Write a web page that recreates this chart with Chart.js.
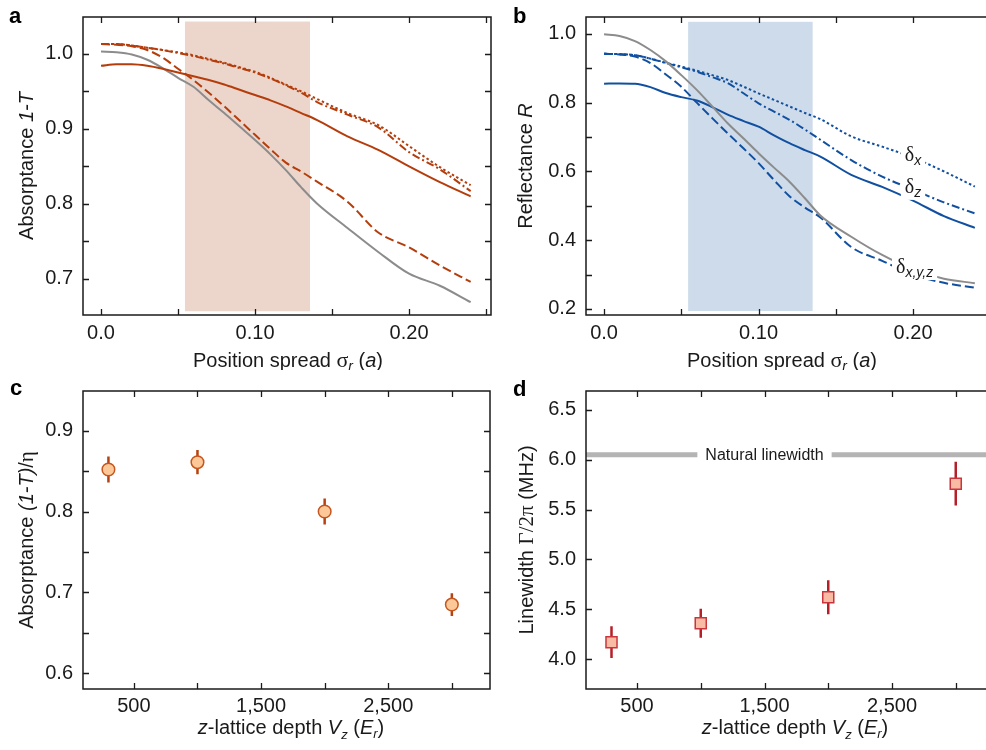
<!DOCTYPE html>
<html>
<head>
<meta charset="utf-8">
<script src="https://cdn.jsdelivr.net/npm/chart.js@4.4.1/dist/chart.umd.min.js"></script>
<style>
  html, body { margin: 0; padding: 0; background: #fff; overflow: hidden; }
  #fig { position: relative; width: 986px; height: 750px; overflow: hidden; }
  canvas { position: absolute; }
</style>
</head>
<body>
<div id="fig">
  <canvas id="panelA" width="493" height="370" style="left:0;top:0"></canvas>
  <canvas id="panelB" width="507" height="370" style="left:493px;top:0"></canvas>
  <canvas id="panelC" width="493" height="380" style="left:0;top:370px"></canvas>
  <canvas id="panelD" width="507" height="380" style="left:493px;top:370px"></canvas>
</div>
<script>
// ---- data ----
const spread = [0, 0.01, 0.02, 0.03, 0.04, 0.05, 0.06, 0.07, 0.08, 0.09, 0.10, 0.11, 0.12, 0.13, 0.14, 0.16, 0.18, 0.20, 0.22, 0.24];

// panel a: absorptance 1-T
const grayA    = [1.003, 1.002, 0.999, 0.992, 0.981, 0.968, 0.956, 0.938, 0.921, 0.903, 0.885, 0.866, 0.845, 0.822, 0.801, 0.768, 0.736, 0.707, 0.691, 0.669];
const solidA   = [0.984, 0.986, 0.986, 0.984, 0.980, 0.975, 0.970, 0.965, 0.959, 0.952, 0.945, 0.938, 0.930, 0.921, 0.912, 0.890, 0.872, 0.850, 0.829, 0.810];
const dashA    = [1.013, 1.012, 1.010, 1.005, 0.995, 0.980, 0.965, 0.948, 0.930, 0.911, 0.892, 0.873, 0.855, 0.843, 0.830, 0.803, 0.762, 0.742, 0.718, 0.696];
const dotA     = [1.013, 1.013, 1.011, 1.008, 1.005, 1.002, 0.998, 0.993, 0.988, 0.982, 0.976, 0.968, 0.959, 0.950, 0.940, 0.921, 0.905, 0.877, 0.849, 0.825];
const dashDotA = [1.013, 1.013, 1.011, 1.008, 1.005, 1.001, 0.997, 0.992, 0.987, 0.981, 0.975, 0.967, 0.958, 0.948, 0.936, 0.919, 0.902, 0.869, 0.846, 0.817];

// panel b: reflectance R
const grayB    = [0.999, 0.994, 0.979, 0.953, 0.920, 0.880, 0.837, 0.789, 0.740, 0.697, 0.653, 0.611, 0.570, 0.522, 0.472, 0.410, 0.357, 0.315, 0.288, 0.275];
const solidB   = [0.855, 0.856, 0.855, 0.845, 0.828, 0.816, 0.806, 0.787, 0.765, 0.747, 0.730, 0.705, 0.682, 0.662, 0.643, 0.590, 0.555, 0.515, 0.470, 0.436];
const dashB    = [0.942, 0.940, 0.934, 0.915, 0.882, 0.846, 0.800, 0.755, 0.711, 0.668, 0.624, 0.575, 0.528, 0.495, 0.466, 0.380, 0.340, 0.300, 0.276, 0.262];
const dashDotB = [0.942, 0.941, 0.938, 0.928, 0.915, 0.903, 0.890, 0.874, 0.857, 0.828, 0.798, 0.774, 0.750, 0.722, 0.692, 0.633, 0.585, 0.547, 0.510, 0.478];
const dotB     = [0.942, 0.941, 0.938, 0.928, 0.916, 0.905, 0.893, 0.880, 0.866, 0.847, 0.827, 0.808, 0.789, 0.770, 0.752, 0.702, 0.672, 0.640, 0.600, 0.556];

// panels c, d
const depth = [300, 1000, 2000, 3000];
const absorptance = [0.852, 0.861, 0.800, 0.685];
const absorptanceErr = [0.016, 0.015, 0.016, 0.014];
const linewidth = [4.17, 4.36, 4.62, 5.76];
const linewidthErr = [0.16, 0.145, 0.17, 0.22];
const naturalLinewidth = 6.05;

// ticks
const spreadTicks = [0, 0.05, 0.10, 0.15, 0.20, 0.25];
const spreadTickLabels = ['0.0', '', '0.10', '', '0.20', ''];
const absTicksA = [0.70, 0.75, 0.80, 0.85, 0.90, 0.95, 1.00];
const absTickLabelsA = ['0.7', '', '0.8', '', '0.9', '', '1.0'];
const reflTicks = [0.2, 0.3, 0.4, 0.5, 0.6, 0.7, 0.8, 0.9, 1.0];
const reflTickLabels = ['0.2', '', '0.4', '', '0.6', '', '0.8', '', '1.0'];
const depthTicks = [500, 1000, 1500, 2000, 2500, 3000];
const depthTickLabels = ['500', '', '1,500', '', '2,500', ''];
const absTicksC = [0.60, 0.65, 0.70, 0.75, 0.80, 0.85, 0.90];
const absTickLabelsC = ['0.6', '', '0.7', '', '0.8', '', '0.9'];
const lwTicks = [4.0, 4.5, 5.0, 5.5, 6.0, 6.5];
const lwTickLabels = ['4.0', '4.5', '5.0', '5.5', '6.0', '6.5'];

// ---- styling ----
const SANS = '"Liberation Sans", Arial, Helvetica, sans-serif';
const SERIF = '"Liberation Serif", "Times New Roman", serif';
const INK = '#1a1a1a';
const ORANGE = '#b53d0c';
const BLUE = '#1150a0';
const GRAY = '#8c8c8c';

Chart.defaults.font.family = SANS;
Chart.defaults.color = INK;
Chart.defaults.animation = false;
Chart.defaults.events = [];
Chart.defaults.plugins.legend.display = false;
Chart.defaults.plugins.tooltip.enabled = false;

function part(t, style, size, family, dy) {
  return { t, font: `${style || 'normal'} ${size || 20}px ${family || SANS}`, dy: dy || 0 };
}

function drawRich(ctx, parts, x, y, rot, bg) {
  ctx.save();
  ctx.translate(x, y);
  if (rot) ctx.rotate(rot);
  ctx.textBaseline = 'alphabetic';
  ctx.textAlign = 'left';
  const widths = parts.map(p => { ctx.font = p.font; return ctx.measureText(p.t).width; });
  const total = widths.reduce((a, b) => a + b, 0);
  let cx = -total / 2;
  if (bg) {
    ctx.fillStyle = bg;
    ctx.fillRect(cx - 4, -15, total + 8, 22);
  }
  ctx.fillStyle = INK;
  parts.forEach((p, i) => { ctx.font = p.font; ctx.fillText(p.t, cx, p.dy); cx += widths[i]; });
  ctx.restore();
}

function axis(min, max, ticks, labels, size, pad) {
  return {
    type: 'linear', min, max,
    grid: { display: false, drawTicks: false },
    border: { display: false },
    afterBuildTicks: s => { s.ticks = ticks.map(v => ({ value: v })); },
    afterFit: s => {
      if (s.isHorizontal()) s.height = size; else s.width = size;
      s.paddingTop = s.paddingBottom = s.paddingLeft = s.paddingRight = 0;
    },
    ticks: {
      autoSkip: false, maxRotation: 0, minRotation: 0, padding: pad,
      color: INK, font: { size: 20 },
      callback: (v, i) => labels[i]
    }
  };
}

function curve(ys, color, dash) {
  return {
    data: spread.map((x, i) => ({ x, y: ys[i] })),
    showLine: true, borderColor: color, borderWidth: 2, borderDash: dash || [],
    pointRadius: 0, cubicInterpolationMode: 'monotone', fill: false
  };
}

function panelPlugin(cfg) {
  return {
    id: 'panel' + cfg.letter,
    beforeDatasetsDraw(chart) {
      const { ctx, scales: { x, y } } = chart;
      if (cfg.shade) {
        const s = cfg.shade;
        const l = x.getPixelForValue(s.x0), r = x.getPixelForValue(s.x1);
        const t = y.getPixelForValue(s.y1), b = y.getPixelForValue(s.y0);
        ctx.save();
        ctx.fillStyle = s.color;
        ctx.fillRect(l, t, r - l, b - t);
        ctx.restore();
      }
      if (cfg.under) cfg.under(chart);
    },
    afterDatasetsDraw(chart) {
      if (cfg.over) cfg.over(chart);
      const { ctx, chartArea: ca, scales: { x, y } } = chart;
      ctx.save();
      ctx.strokeStyle = INK;
      ctx.lineWidth = 1.5;
      ctx.strokeRect(ca.left, ca.top, ca.right - ca.left, ca.bottom - ca.top);
      ctx.lineWidth = 1.3;
      ctx.beginPath();
      x.ticks.forEach(t => {
        const px = Math.round(x.getPixelForValue(t.value)) + 0.5;
        ctx.moveTo(px, ca.bottom); ctx.lineTo(px, ca.bottom - 6);
        ctx.moveTo(px, ca.top); ctx.lineTo(px, ca.top + 6);
      });
      y.ticks.forEach(t => {
        const py = Math.round(y.getPixelForValue(t.value)) + 0.5;
        ctx.moveTo(ca.left, py); ctx.lineTo(ca.left + 6, py);
        ctx.moveTo(ca.right, py); ctx.lineTo(ca.right - 6, py);
      });
      ctx.stroke();
      ctx.restore();
    },
    afterDraw(chart) {
      const { ctx, chartArea: ca } = chart;
      drawRich(ctx, cfg.xTitle, cfg.xTitleX, cfg.xTitleY, 0);
      drawRich(ctx, cfg.yTitle, cfg.yTitleX, (ca.top + ca.bottom) / 2, -Math.PI / 2);
      ctx.save();
      ctx.font = `bold 22px ${SANS}`;
      ctx.fillStyle = '#000';
      ctx.textBaseline = 'alphabetic';
      ctx.fillText(cfg.letter, cfg.letterX, cfg.letterY);
      ctx.restore();
    }
  };
}

const spreadTitle = [part('Position spread '), part('σ', 'normal', 22, SERIF), part('r', 'italic', 14, SANS, 4), part(' ('), part('a', 'italic'), part(')')];
const depthTitle = [part('z', 'italic'), part('-lattice depth '), part('V', 'italic'), part('z', 'italic', 13, SANS, 5), part(' ('), part('E', 'italic'), part('r', 'italic', 13, SANS, 4), part(')')];

// ---- panel a ----
new Chart(document.getElementById('panelA'), {
  type: 'scatter',
  data: {
    datasets: [
      curve(solidA, ORANGE),
      curve(dotA, ORANGE, [2.5, 2.5]),
      curve(dashDotA, ORANGE, [8, 3, 2, 3]),
      curve(dashA, ORANGE, [9, 4]),
      curve(grayA, GRAY)
    ]
  },
  options: {
    responsive: false, devicePixelRatio: 1,
    layout: { autoPadding: false, padding: { top: 17, right: 2, left: 0, bottom: 0 } },
    scales: {
      x: axis(-0.0117, 0.2532, spreadTicks, spreadTickLabels, 55, 6),
      y: axis(0.652, 1.049, absTicksA, absTickLabelsA, 83, 10)
    }
  },
  plugins: [panelPlugin({
    letter: 'a', letterX: 9, letterY: 23,
    shade: { x0: 0.0545, x1: 0.1357, y0: 0.657, y1: 1.043, color: '#ecd6cc' },
    xTitle: spreadTitle, xTitleX: 288, xTitleY: 367,
    yTitle: [part('Absorptance '), part('1-T', 'italic')], yTitleX: 33
  })]
});

// ---- panel b ----
const deltaLabels = [
  { x: 0.200, y: 0.648, sub: 'x' },
  { x: 0.200, y: 0.555, sub: 'z' },
  { x: 0.201, y: 0.322, sub: 'x,y,z' }
];

new Chart(document.getElementById('panelB'), {
  type: 'scatter',
  data: {
    datasets: [
      curve(grayB, GRAY),
      curve(solidB, BLUE),
      curve(dotB, BLUE, [2.5, 2.5]),
      curve(dashDotB, BLUE, [8, 3, 2, 3]),
      curve(dashB, BLUE, [9, 4])
    ]
  },
  options: {
    responsive: false, devicePixelRatio: 1,
    layout: { autoPadding: false, padding: { top: 17, right: 6, left: 0, bottom: 0 } },
    scales: {
      x: axis(-0.0117, 0.2524, spreadTicks, spreadTickLabels, 55, 6),
      y: axis(0.1825, 1.049, reflTicks, reflTickLabels, 93, 10)
    }
  },
  plugins: [panelPlugin({
    letter: 'b', letterX: 20, letterY: 23,
    shade: { x0: 0.0544, x1: 0.135, y0: 0.194, y1: 1.035, color: '#cddbeb' },
    xTitle: spreadTitle, xTitleX: 289, xTitleY: 367,
    yTitle: [part('Reflectance '), part('R', 'italic')], yTitleX: 39,
    over(chart) {
      const { ctx, scales: { x, y } } = chart;
      deltaLabels.forEach(d => {
        drawRich(ctx, [part('δ', 'normal', 20, SERIF), part(d.sub, 'italic', 14, SANS, 4)],
          x.getPixelForValue(d.x), y.getPixelForValue(d.y) + 6, 0, '#fff');
      });
    }
  })]
});

// ---- error bars helper ----
function errorBars(chart, values, errs, color) {
  const { ctx, scales: { x, y } } = chart;
  ctx.save();
  ctx.strokeStyle = color;
  ctx.lineWidth = 2.5;
  ctx.beginPath();
  depth.forEach((d, i) => {
    const px = x.getPixelForValue(d);
    ctx.moveTo(px, y.getPixelForValue(values[i] - errs[i]));
    ctx.lineTo(px, y.getPixelForValue(values[i] + errs[i]));
  });
  ctx.stroke();
  ctx.restore();
}

// ---- panel c ----
new Chart(document.getElementById('panelC'), {
  type: 'scatter',
  data: {
    datasets: [{
      data: depth.map((d, i) => ({ x: d, y: absorptance[i] })),
      pointStyle: 'circle', pointRadius: 6.3,
      backgroundColor: '#fdc898', borderColor: '#c4561f', borderWidth: 1.5
    }]
  },
  options: {
    responsive: false, devicePixelRatio: 1,
    layout: { autoPadding: false, padding: { top: 21, right: 3, left: 0, bottom: 0 } },
    scales: {
      x: axis(100, 3300, depthTicks, depthTickLabels, 61, 5),
      y: axis(0.5806, 0.949, absTicksC, absTickLabelsC, 83, 10)
    }
  },
  plugins: [panelPlugin({
    letter: 'c', letterX: 10, letterY: 25,
    xTitle: depthTitle, xTitleX: 291, xTitleY: 364,
    yTitle: [part('Absorptance '), part('(1-T)', 'italic'), part('/'), part('η', 'normal', 21, SERIF)], yTitleX: 33,
    under(chart) { errorBars(chart, absorptance, absorptanceErr, '#b8420f'); }
  })]
});

// ---- panel d ----
new Chart(document.getElementById('panelD'), {
  type: 'scatter',
  data: {
    datasets: [{
      data: depth.map((d, i) => ({ x: d, y: linewidth[i] })),
      pointStyle: 'rect', pointRadius: 7.8,
      backgroundColor: '#f9bba3', borderColor: '#c9353c', borderWidth: 1.5
    }]
  },
  options: {
    responsive: false, devicePixelRatio: 1,
    layout: { autoPadding: false, padding: { top: 21, right: 6, left: 0, bottom: 0 } },
    scales: {
      x: axis(100, 3300, depthTicks, depthTickLabels, 61, 5),
      y: axis(3.70, 6.69, lwTicks, lwTickLabels, 93, 10)
    }
  },
  plugins: [panelPlugin({
    letter: 'd', letterX: 20, letterY: 26,
    xTitle: depthTitle, xTitleX: 302, xTitleY: 364,
    yTitle: [part('Linewidth '), part('Γ/2π', 'normal', 21, SERIF), part(' (MHz)')], yTitleX: 40,
    under(chart) {
      const { ctx, chartArea: ca, scales: { x, y } } = chart;
      const py = y.getPixelForValue(naturalLinewidth);
      const cx = x.getPixelForValue(1500);
      ctx.save();
      ctx.font = `16px ${SANS}`;
      const w = ctx.measureText('Natural linewidth').width;
      ctx.strokeStyle = '#b4b4b4';
      ctx.lineWidth = 5;
      ctx.beginPath();
      ctx.moveTo(ca.left, py); ctx.lineTo(cx - w / 2 - 8, py);
      ctx.moveTo(cx + w / 2 + 8, py); ctx.lineTo(ca.right, py);
      ctx.stroke();
      ctx.fillStyle = INK;
      ctx.textAlign = 'center';
      ctx.textBaseline = 'middle';
      ctx.fillText('Natural linewidth', cx, py + 1);
      ctx.restore();
      errorBars(chart, linewidth, linewidthErr, '#b51f28');
    }
  })]
});
</script>
</body>
</html>
